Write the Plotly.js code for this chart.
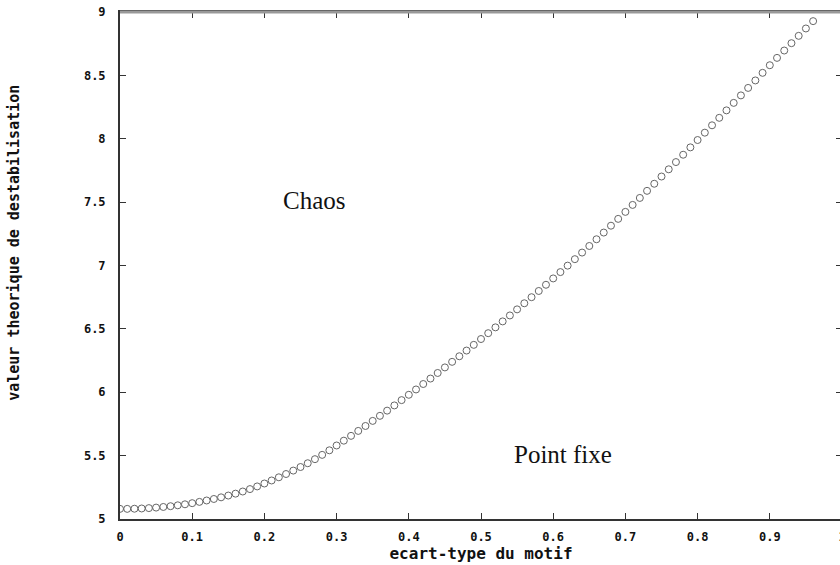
<!DOCTYPE html>
<html>
<head>
<meta charset="utf-8">
<script src="https://cdn.plot.ly/plotly-3.0.1.min.js"></script>
<style>
html,body{margin:0;padding:0;background:#fff;overflow:hidden;}
#chart{width:842px;height:565px;}
</style>
</head>
<body>
<div id="chart"></div>
<script>
// écart-type du motif (x) and valeur théorique de déstabilisation (y)
const ecartType = [
  0.00,0.01,0.02,0.03,0.04,0.05,0.06,0.07,0.08,0.09,
  0.10,0.11,0.12,0.13,0.14,0.15,0.16,0.17,0.18,0.19,
  0.20,0.21,0.22,0.23,0.24,0.25,0.26,0.27,0.28,0.29,
  0.30,0.31,0.32,0.33,0.34,0.35,0.36,0.37,0.38,0.39,
  0.40,0.41,0.42,0.43,0.44,0.45,0.46,0.47,0.48,0.49,
  0.50,0.51,0.52,0.53,0.54,0.55,0.56,0.57,0.58,0.59,
  0.60,0.61,0.62,0.63,0.64,0.65,0.66,0.67,0.68,0.69,
  0.70,0.71,0.72,0.73,0.74,0.75,0.76,0.77,0.78,0.79,
  0.80,0.81,0.82,0.83,0.84,0.85,0.86,0.87,0.88,0.89,
  0.90,0.91,0.92,0.93,0.94,0.95,0.96
];
const valeurDestab = [
  5.080,5.080,5.081,5.083,5.086,5.090,5.095,5.101,5.108,5.116,
  5.125,5.135,5.146,5.158,5.171,5.185,5.200,5.217,5.236,5.257,
  5.280,5.304,5.329,5.355,5.382,5.410,5.440,5.472,5.506,5.542,
  5.580,5.618,5.656,5.695,5.734,5.774,5.814,5.855,5.896,5.938,
  5.980,6.022,6.065,6.108,6.152,6.196,6.240,6.284,6.329,6.374,
  6.420,6.466,6.512,6.559,6.606,6.654,6.702,6.750,6.799,6.848,
  6.898,6.948,6.999,7.050,7.102,7.154,7.207,7.260,7.314,7.368,
  7.423,7.478,7.533,7.589,7.645,7.702,7.759,7.816,7.874,7.932,
  7.990,8.048,8.106,8.165,8.224,8.283,8.342,8.401,8.460,8.520,
  8.580,8.638,8.696,8.754,8.812,8.870,8.928
];
const xTickVals = [0,0.1,0.2,0.3,0.4,0.5,0.6,0.7,0.8,0.9,1];
const xTickText = ["0","0.1","0.2","0.3","0.4","0.5","0.6","0.7","0.8","0.9","1"];
const yTickVals = [5,5.5,6,6.5,7,7.5,8,8.5,9];
const yTickText = ["5","5.5","6","6.5","7","7.5","8","8.5","9"];
const regionLabels = ["Chaos","Point fixe"];
const regionX = [0.27, 0.614];
const regionY = [7.51, 5.51];
const xTitle = "ecart-type du motif";
const yTitle = "valeur theorique de destabilisation";

const monoFont = {family:"DejaVu Sans Mono", size:12, color:"#111", weight:"bold"};

const trace = {
  x: ecartType, y: valeurDestab, type:"scatter", mode:"markers",
  marker:{symbol:"circle-open", size:7, color:"#666", line:{width:1, color:"#666"}},
  hoverinfo:"x+y", showlegend:false
};

const axisCommon = {
  showgrid:false, zeroline:false, showline:true, linecolor:"#333", linewidth:2,
  mirror:"ticks", ticks:"inside", ticklen:6, tickwidth:1, tickcolor:"#333",
  tickfont: monoFont, automargin:false, ticklabeloverflow:"allow"
};

const layout = {
  width:842, height:565,
  margin:{l:120, r:0, t:12, b:46},
  paper_bgcolor:"#fff", plot_bgcolor:"#fff",
  xaxis: Object.assign({}, axisCommon, {
    range:[0,1], tickvals:xTickVals, ticktext:xTickText, ticklabelstandoff:6,
    title:{text:xTitle, font:{family:"DejaVu Sans Mono", size:16, color:"#111", weight:"bold"}, standoff:4}
  }),
  yaxis: Object.assign({}, axisCommon, {
    range:[5,9], tickvals:yTickVals, ticktext:yTickText, ticklabelstandoff:10
  }),
  shapes:[
    {type:"line", xref:"paper", yref:"paper", x0:0, x1:1, y0:1, y1:1, line:{color:"#999", width:3}, layer:"above"}
  ],
  annotations: regionLabels.map((t,i)=>({
    text:t, x:regionX[i], y:regionY[i], xref:"x", yref:"y", showarrow:false,
    font:{family:"Liberation Serif", size:25, color:"#111"}
  })).concat([{
    text:yTitle, xref:"paper", yref:"paper", x:-0.146, y:0.544, textangle:-90,
    showarrow:false, xanchor:"center", yanchor:"middle",
    font:{family:"DejaVu Sans Mono", size:15, color:"#111", weight:"bold"}
  }])
};

Plotly.newPlot("chart", [trace], layout, {staticPlot:true, displayModeBar:false});
</script>
</body>
</html>
